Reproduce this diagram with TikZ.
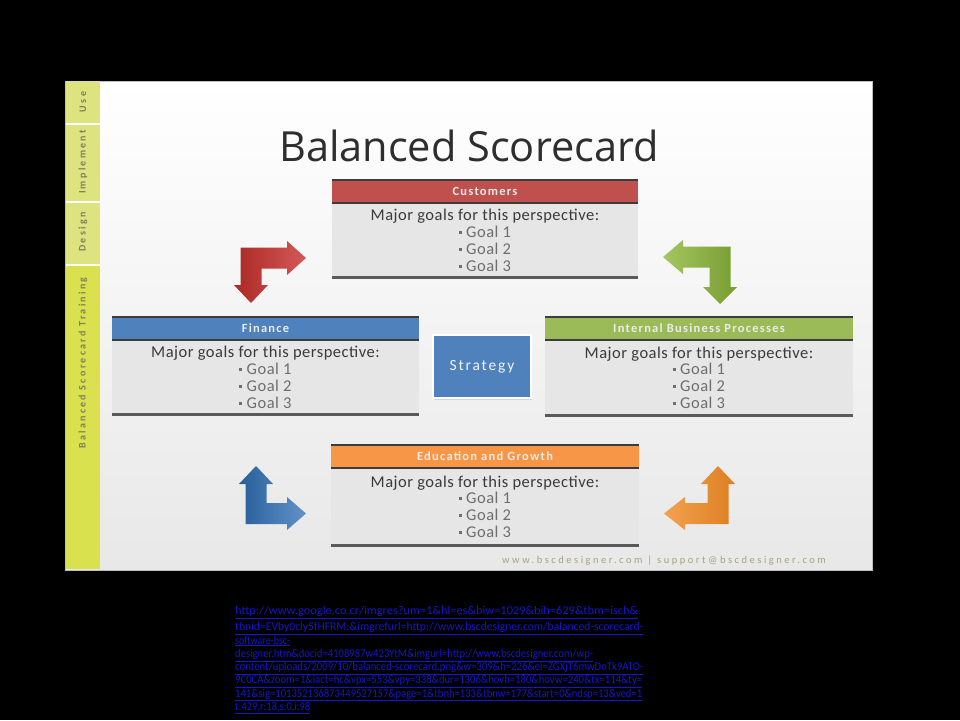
\documentclass[tikz,border=0pt]{standalone}
\usepackage{fontspec}
\setmainfont{Carlito}
\newfontfamily\titlefont{Open Sans}
\usetikzlibrary{shadows}
\definecolor{cRed}{HTML}{C0504D}
\definecolor{cBlue}{HTML}{4F81BD}
\definecolor{cGreen}{HTML}{9BBB59}
\definecolor{cOrange}{HTML}{F79646}
\definecolor{bodyGray}{HTML}{E6E6E6}
\definecolor{lineDark}{HTML}{3C3C3C}
\definecolor{lineGray}{HTML}{5A5A5A}
\definecolor{sideTop}{HTML}{DDE47F}
\definecolor{sideMain}{HTML}{D9E24E}
\definecolor{sideText}{HTML}{7F7F5E}
\definecolor{footText}{HTML}{A5A57A}
\definecolor{urlBlue}{HTML}{1616CC}
\definecolor{majorText}{HTML}{3A3A3A}
\definecolor{goalText}{HTML}{6E6E6E}
\definecolor{arRed}{HTML}{C9302C}
\definecolor{arGreen}{HTML}{8DB83A}
\definecolor{arBlue}{HTML}{2E6FB5}
\definecolor{arOrange}{HTML}{F08A24}
\tikzset{
  hdr/.style={rectangle, inner sep=0pt, minimum height=23pt, text=white!92!black,
    font=\fontsize{12.5}{14}\selectfont\bfseries\addfontfeatures{LetterSpace=10}},
  bodybox/.style={rectangle, inner sep=0pt, fill=bodyGray, anchor=north,
    align=center, text=majorText, font=\fontsize{16.5}{17}\selectfont\addfontfeatures{LetterSpace=3}},
  sidetext/.style={rotate=90, text=sideText, font=\fontsize{10}{12}\selectfont\bfseries\addfontfeatures{LetterSpace=23}},
  arrowshape/.style={draw=none},
}
\newcommand{\sqbullet}{\raisebox{0.22em}{\rule{2.8pt}{2.8pt}}\hspace{4.5pt}}
\newcommand{\goalsText}{Major goals for this perspective:\\[-0.5pt]
  \textcolor{goalText}{\sqbullet Goal 1}\\ \textcolor{goalText}{\sqbullet Goal 2}\\ \textcolor{goalText}{\sqbullet Goal 3}}
\newcommand{\urlline}[2]{\resizebox{#1pt}{\height}{\underline{#2}}}
\begin{document}
\begin{tikzpicture}[x=1pt,y=-1pt]
\fill[black] (0,0) rectangle (960,720);
\useasboundingbox (0,0) rectangle (960,720);
% panel
\shade[top color=white, bottom color=black!9] (65,81) rectangle (872,570);
\draw[black!25, line width=0.6pt] (65,81) rectangle (872,570);
% sidebar
\fill[sideTop] (66,81) rectangle (100,264);
\fill[sideMain] (66,264) rectangle (100,569);
\foreach \yy in {123.5,201.5,264.5} \draw[white, line width=2pt] (66,\yy) -- (100,\yy);
\node[sidetext] (sUse) at (83,102) {Use};
\node[sidetext] (sImpl) at (83,162) {Implement};
\node[sidetext] (sDes) at (83,232) {Design};
\node[sidetext] (sTrain) at (83,363) {Balanced Scorecard Training};
% title
\node[text=black!82, font=\fontsize{41.5}{48}\titlefont] (title) at (469,146) {Balanced Scorecard};
% Customers
\node[hdr, fill=cRed, minimum width=306pt] (cust) at (485,191.5) {Customers};
\node[bodybox, minimum width=306pt, minimum height=74pt] (custb) at (cust.south) {\goalsText};
% Finance
\node[hdr, fill=cBlue, minimum width=307pt] (fin) at (265.5,328.5) {Finance};
\node[bodybox, minimum width=307pt, minimum height=74pt] (finb) at (fin.south) {\goalsText};
% Internal Business Processes
\node[hdr, fill=cGreen, minimum width=308pt] (ibp) at (699,328.5) {Internal Business Processes};
\node[bodybox, minimum width=308pt, minimum height=75pt] (ibpb) at (ibp.south) {\goalsText};
% Education and Growth
\node[hdr, fill=cOrange, minimum width=308pt] (edu) at (485,456.5) {Education and Growth};
\node[bodybox, minimum width=308pt, minimum height=77pt] (edub) at (edu.south) {\goalsText};
% header / body rules
\foreach \n in {cust,fin,ibp,edu}{
  \draw[lineDark, line width=2.5pt] (\n.north west) -- (\n.north east);
  \draw[lineDark, line width=1.6pt] (\n.south west) -- (\n.south east);
  \draw[lineGray, line width=3pt] (\n b.south west) -- (\n b.south east);
}
% Strategy
\node[rectangle, fill=cBlue, draw=white, line width=2.5pt, minimum width=98pt, minimum height=63pt,
  text=white!92!cBlue, font=\fontsize{15.5}{18}\selectfont\addfontfeatures{LetterSpace=12},
  drop shadow={opacity=0.25, shadow xshift=1pt, shadow yshift=-1.5pt}] (strat) at (482,366.5) {Strategy};
% arrows
\shade[arrowshape, left color=arRed!85!black, right color=arRed!80!white]
  (251,303) -- (234,285) -- (240.5,285) -- (240.5,247.5) -- (287,247.5) -- (287,241) -- (306,258)
  -- (287,275) -- (287,268.5) -- (261.5,268.5) -- (261.5,285) -- (268,285) -- cycle;
\shade[arrowshape, left color=arGreen!80!white, right color=arGreen!85!black]
  (663,257) -- (683,240) -- (683,246.5) -- (730.5,246.5) -- (730.5,287) -- (737,287) -- (720,304)
  -- (703,287) -- (709.5,287) -- (709.5,267.5) -- (683,267.5) -- (683,274) -- cycle;
\shade[arrowshape, left color=arBlue!85!black, right color=arBlue!75!white]
  (256,466) -- (273,484) -- (266.5,484) -- (266.5,503) -- (287,503) -- (287,497) -- (306,513.5)
  -- (287,530) -- (287,524) -- (245.5,524) -- (245.5,484) -- (239,484) -- cycle;
\shade[arrowshape, left color=arOrange!80!white, right color=arOrange!92!black]
  (718,466) -- (735,484) -- (728.5,484) -- (728.5,524) -- (685,524) -- (685,530) -- (664,513.5)
  -- (685,497) -- (685,503) -- (707.5,503) -- (707.5,484) -- (701,484) -- cycle;
% footer
\node[text=footText, font=\fontsize{10.5}{12}\selectfont\addfontfeatures{LetterSpace=24}] (foot) at (664,561) {www.bscdesigner.com | support@bscdesigner.com};
% URL
\node[anchor=north west, align=left, inner sep=0pt, text=urlBlue, font=\fontsize{11.8}{13.3}\selectfont] (url) at (235,606.5) {%
\urlline{403}{http://www.google.co.cr/imgres?um=1\&hl=es\&biw=1029\&bih=629\&tbm=isch\&}\\[2.5pt]
\urlline{408}{tbnid=EVby0cly5fHFRM:\&imgrefurl=http://www.bscdesigner.com/balanced-scorecard-}\\
\urlline{55}{software-bsc-}\\
\urlline{358}{designer.htm\&docid=4108987w423YtM\&imgurl=http://www.bscdesigner.com/wp-}\\
\urlline{408}{content/uploads/2009/10/balanced-scorecard.png\&w=309\&h=226\&ei=ZGXjT6mwDoTk9ATO-}\\
\urlline{407}{9C0CA\&zoom=1\&iact=hc\&vpx=553\&vpy=338\&dur=1306\&hovh=180\&hovw=240\&tx=114\&ty=}\\
\urlline{407}{141\&sig=101352136873449527157\&page=1\&tbnh=133\&tbnw=177\&start=0\&ndsp=13\&ved=1}\\
\urlline{75}{t:429,r:18,s:0,i:98}};
\end{tikzpicture}
\end{document}
